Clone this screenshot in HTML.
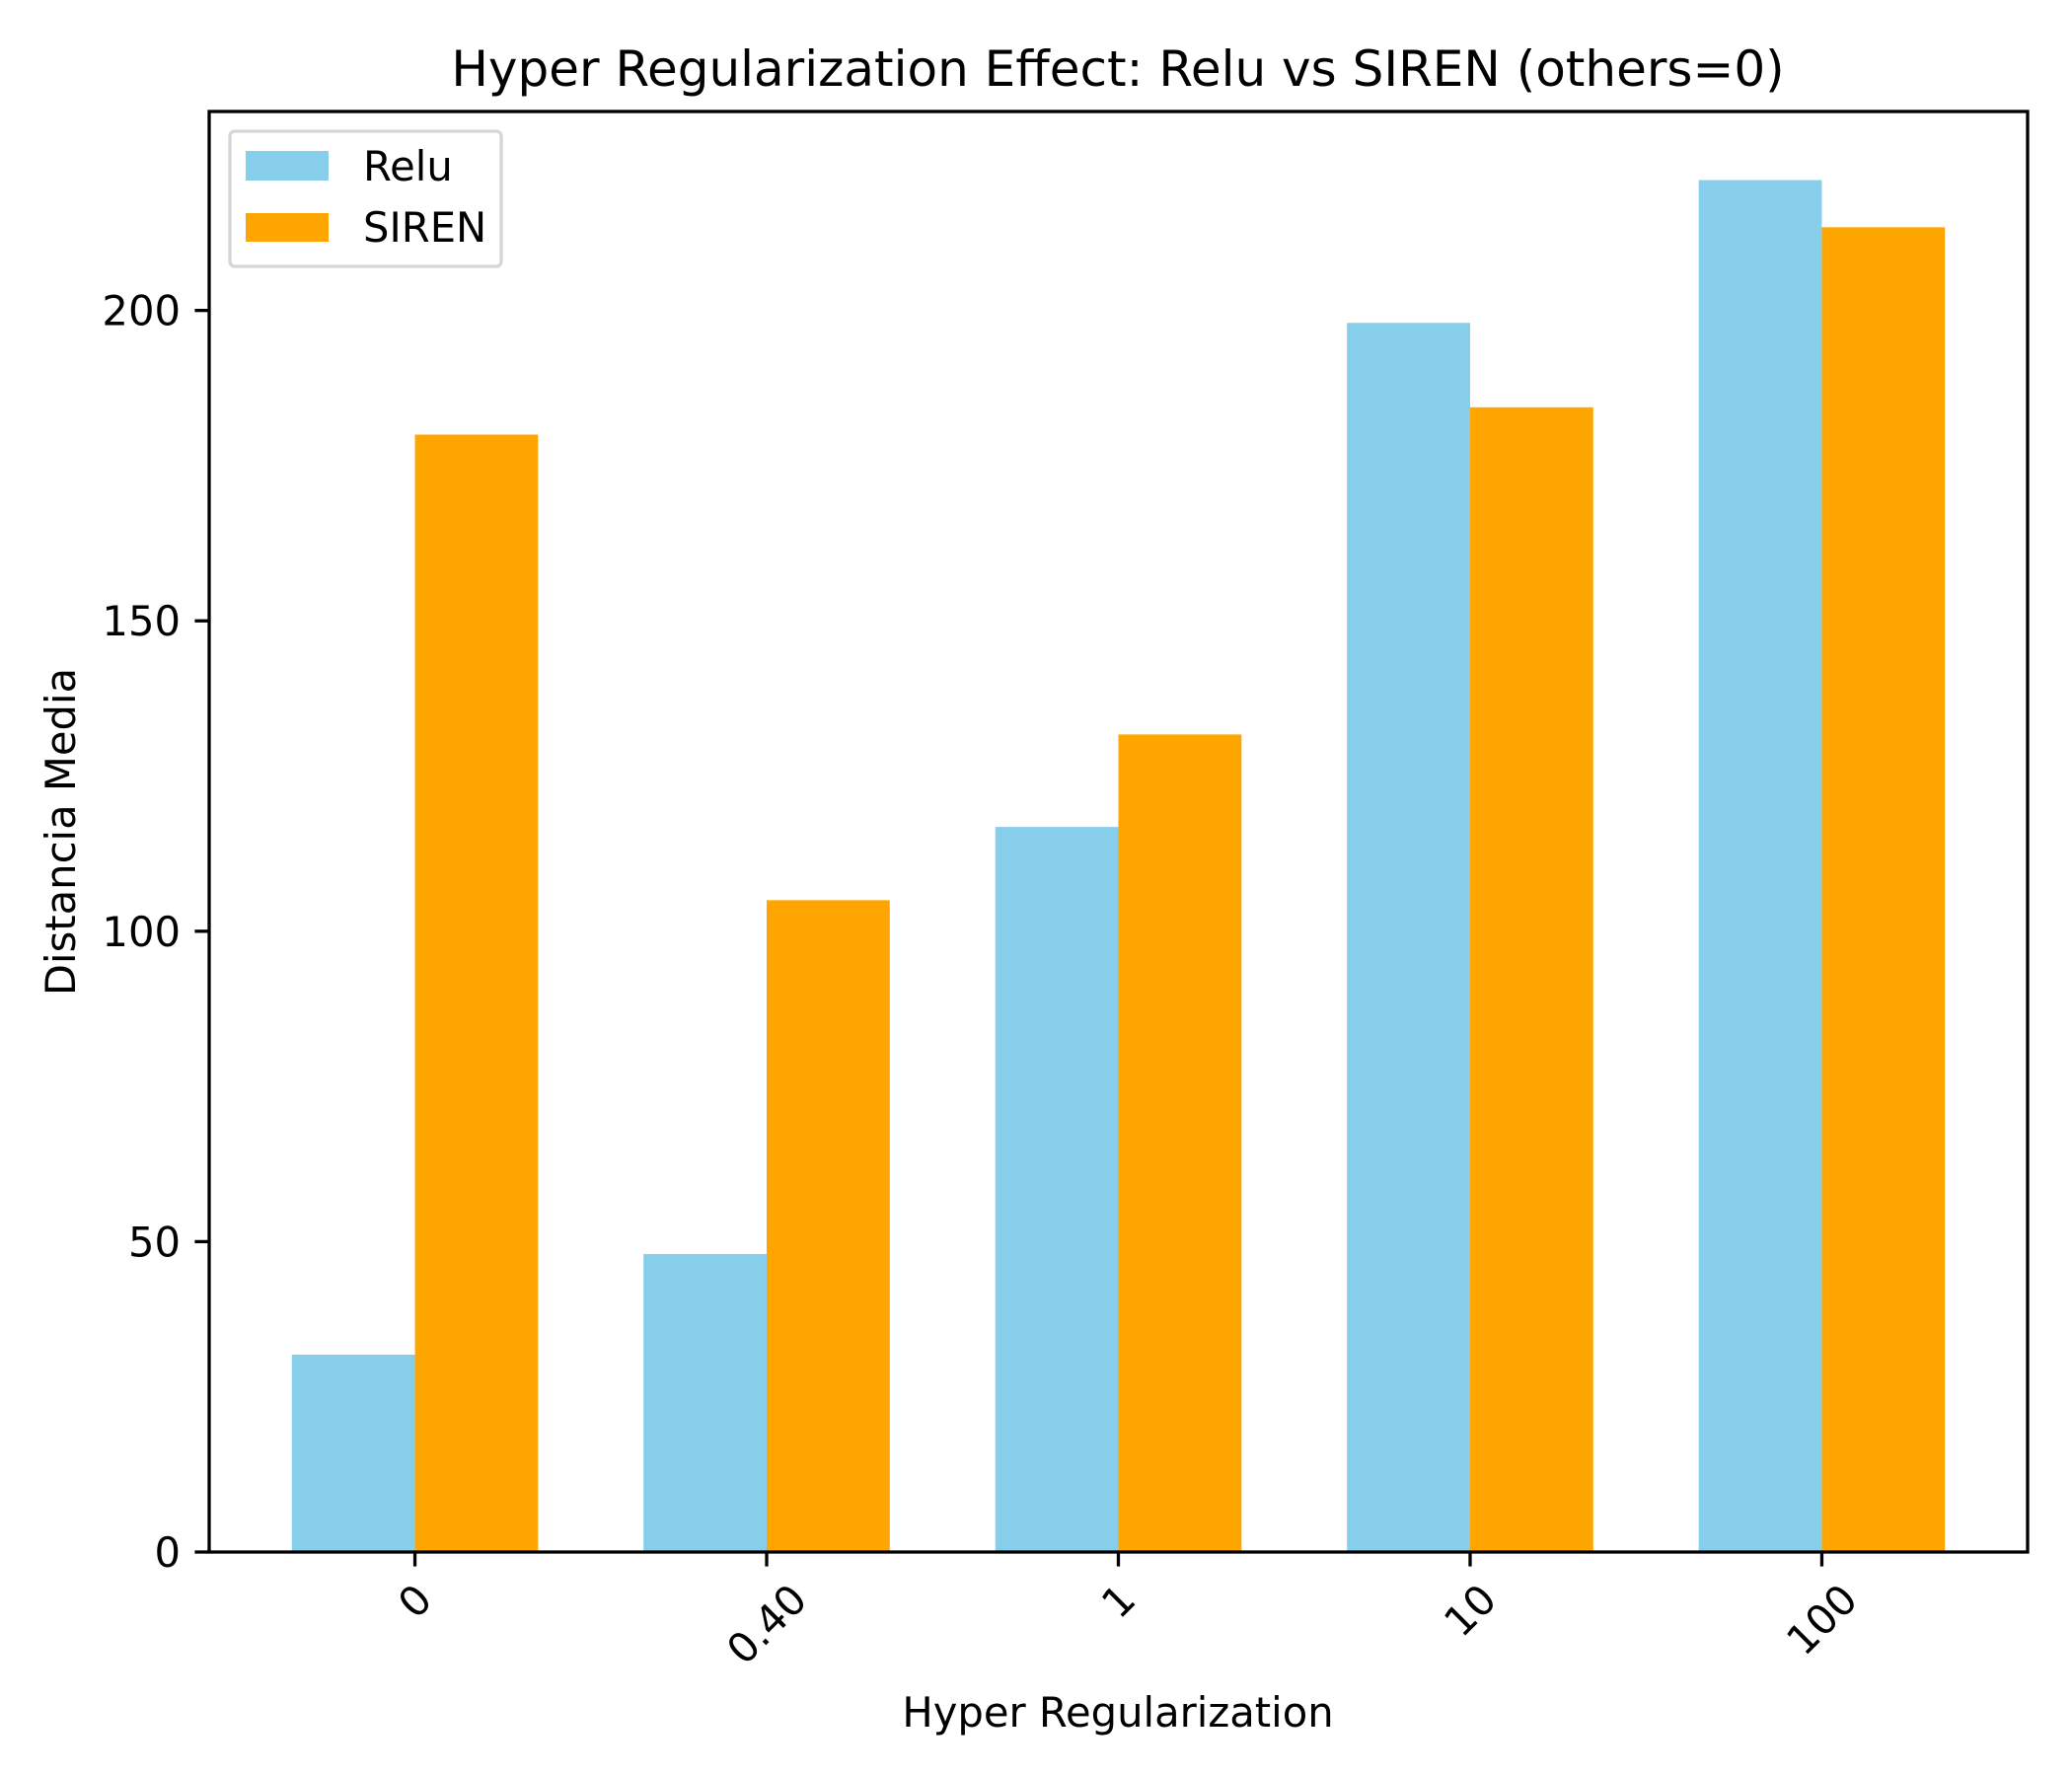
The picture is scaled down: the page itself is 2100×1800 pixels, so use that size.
<!DOCTYPE html>
<html><head><meta charset="utf-8"><style>
html,body{margin:0;padding:0;background:#fff}
svg{display:block;font-family:"DejaVu Sans","Liberation Sans",sans-serif}
</style></head><body>
<svg id="chart" width="2100" height="1800" viewBox="0 0 2100 1800" xmlns="http://www.w3.org/2000/svg">
<rect width="2100" height="1800" fill="#fff"/>
<text x="1133" y="87" font-size="50" text-anchor="middle">Hyper Regularization Effect: Relu vs SIREN (others=0)</text>
<g id="bars"></g>
<g id="axes"></g>
<text x="1133" y="1750" font-size="41.7" text-anchor="middle">Hyper Regularization</text>
<text transform="translate(76,843) rotate(-90)" font-size="41.7" text-anchor="middle">Distancia Media</text>
<rect x="212" y="113" width="1843" height="1460" fill="none" stroke="#000" stroke-width="3.3"/>
<g>
<rect x="233" y="133" width="275" height="137" rx="5" fill="#fff" fill-opacity="0.8" stroke="#d6d6d6" stroke-width="3.3"/>
<rect x="249" y="153" width="84" height="30" fill="#87CEEB"/>
<text x="368" y="183" font-size="41.7">Relu</text>
<rect x="249" y="216" width="84" height="29" fill="#FFA500"/>
<text x="368" y="245" font-size="41.7">SIREN</text>
</g>
</svg>
<script>
const categories = ["0", "0.40", "1", "10", "100"];
const reluValues = [31.8, 48.0, 116.8, 198.0, 221.0];
const sirenValues = [180.0, 105.0, 131.7, 184.4, 213.4];
const yTicks = [0, 50, 100, 150, 200];

const NS = "http://www.w3.org/2000/svg";
const L = 212, R = 2055, T = 113, B = 1573;
const barW = 0.35;
const xMin = -barW - 0.05 * (categories.length - 1 + 2 * barW);
const xMax = categories.length - 1 + barW + 0.05 * (categories.length - 1 + 2 * barW);
const yMax = Math.max(...reluValues, ...sirenValues) * 1.05;
function xs(v) { return L + (v - xMin) / (xMax - xMin) * (R - L); }
function ys(v) { return B - v / yMax * (B - T); }
function mk(tag, attrs, parent) {
  const el = document.createElementNS(NS, tag);
  for (const k in attrs) el.setAttribute(k, attrs[k]);
  parent.appendChild(el);
  return el;
}
const bars = document.getElementById("bars");
const axes = document.getElementById("axes");
categories.forEach((c, i) => {
  const r = mk("rect", {x: xs(i - barW), y: ys(reluValues[i]), width: xs(i) - xs(i - barW), height: ys(0) - ys(reluValues[i]), fill: "#87CEEB"}, bars);
  
  
  const s = mk("rect", {x: xs(i), y: ys(sirenValues[i]), width: xs(i + barW) - xs(i), height: ys(0) - ys(sirenValues[i]), fill: "#FFA500"}, bars);
  
  
  const tk = mk("line", {x1: xs(i), x2: xs(i), y1: B, y2: B + 14.6, stroke: "#000", "stroke-width": 3.3}, axes);
  
  
  const t = mk("text", {"font-size": 41.7, "text-anchor": "middle", "dominant-baseline": "central"}, axes);
  t.textContent = c;
  
  
  const w = t.getComputedTextLength();
  const h = 32;
  const cy = B + 29 + (w + h) * 0.7071 / 2;
  t.setAttribute("transform", "translate(" + xs(i) + "," + cy + ") rotate(-45)");
});
yTicks.forEach(v => {
  const tk = mk("line", {x1: L - 14.6, x2: L, y1: ys(v), y2: ys(v), stroke: "#000", "stroke-width": 3.3}, axes);
  
  
  const t = mk("text", {x: L - 29, y: ys(v) + 15, "font-size": 41.7, "text-anchor": "end"}, axes);
  t.textContent = v;
  
  
});
</script>
</body></html>
